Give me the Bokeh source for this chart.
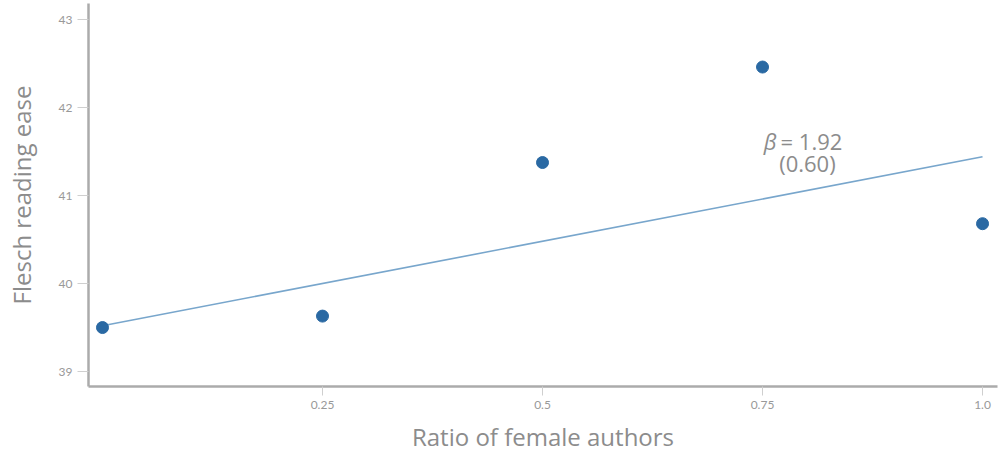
from bokeh.plotting import figure
from bokeh.models import Range1d, FixedTicker, Label, ColumnDataSource, Title
from bokeh.embed import file_html
from bokeh.resources import INLINE

# ---- data ----
ratio_female = [0.0, 0.25, 0.5, 0.75, 1.0]
flesch_ease = [39.50, 39.63, 41.375, 42.46, 40.68]
reg_intercept = 39.52
reg_beta = 1.92
reg_se = 0.60
x_ticks = [0.25, 0.5, 0.75, 1.0]
x_tick_labels = {0.25: "0.25", 0.5: "0.5", 0.75: "0.75", 1.0: "1.0"}
y_ticks = [39, 40, 41, 42, 43]
x_title = "Ratio of female authors"
y_title = "Flesch reading ease"

FONT = "Lato"
TITLE_FONT = "Open Sans"
POINT_COLOR = "#2a69a3"
LINE_COLOR = "#78a6cc"
TEXT_GRAY = "#8c8c8c"

p = figure(width=1000, height=460, output_backend="svg", toolbar_location=None,
           x_range=Range1d(-0.0159, 1.0170), y_range=Range1d(38.830, 43.182),
           min_border_left=88, min_border_right=3, min_border_top=3, min_border_bottom=74)
p.outline_line_color = None
p.grid.visible = False
p.background_fill_color = "white"
p.border_fill_color = "white"

# regression line
line_x = [ratio_female[0], ratio_female[-1]]
line_y = [reg_intercept + reg_beta * v for v in line_x]
p.line(line_x, line_y, line_color=LINE_COLOR, line_width=1.6)

src = ColumnDataSource(dict(x=ratio_female, y=flesch_ease))
p.scatter("x", "y", source=src, size=12, fill_color=POINT_COLOR, line_color=POINT_COLOR)

for ax in (p.xaxis[0], p.yaxis[0]):
    ax.axis_line_color = "#ababab"
    ax.axis_line_width = 2.5
    ax.major_tick_line_color = "#cfcfcf"
    ax.major_tick_in = 0
    ax.minor_tick_line_color = None
    ax.major_label_text_font = FONT
    ax.major_label_text_font_size = "12px"
    ax.major_label_text_color = "#999999"
    ax.major_label_standoff = 5

p.xaxis.major_tick_out = 9
p.yaxis.major_tick_out = 11
p.xaxis.ticker = FixedTicker(ticks=x_ticks)
p.xaxis.major_label_overrides = x_tick_labels
p.yaxis.ticker = FixedTicker(ticks=y_ticks)

# y axis title
p.yaxis.axis_label = y_title
p.yaxis.axis_label_text_font = TITLE_FONT
p.yaxis.axis_label_text_font_size = "24px"
p.yaxis.axis_label_text_font_style = "normal"
p.yaxis.axis_label_text_color = TEXT_GRAY
p.yaxis.axis_label_standoff = 18

# x axis title (slightly left of centre, as in the reference)
p.add_layout(Title(text=x_title, align="center", offset=-35, standoff=12,
                   text_font=TITLE_FONT, text_font_size="24px", text_font_style="normal",
                   text_color=TEXT_GRAY), "below")

# coefficient annotation
p.add_layout(Label(x=0.766, y=41.614, text="\u03b2", text_align="right", text_baseline="middle",
                   text_font=TITLE_FONT, text_font_style="italic", text_font_size="22px", text_color=TEXT_GRAY))
p.add_layout(Label(x=0.7705, y=41.614, text=f"= {reg_beta:.2f}", text_align="left", text_baseline="middle",
                   text_font=TITLE_FONT, text_font_size="22px", text_color=TEXT_GRAY))
p.add_layout(Label(x=0.801, y=41.364, text=f"({reg_se:.2f})", text_align="center", text_baseline="middle",
                   text_font=TITLE_FONT, text_font_size="22px", text_color=TEXT_GRAY))

open("out.html", "w").write(file_html(p, INLINE))
